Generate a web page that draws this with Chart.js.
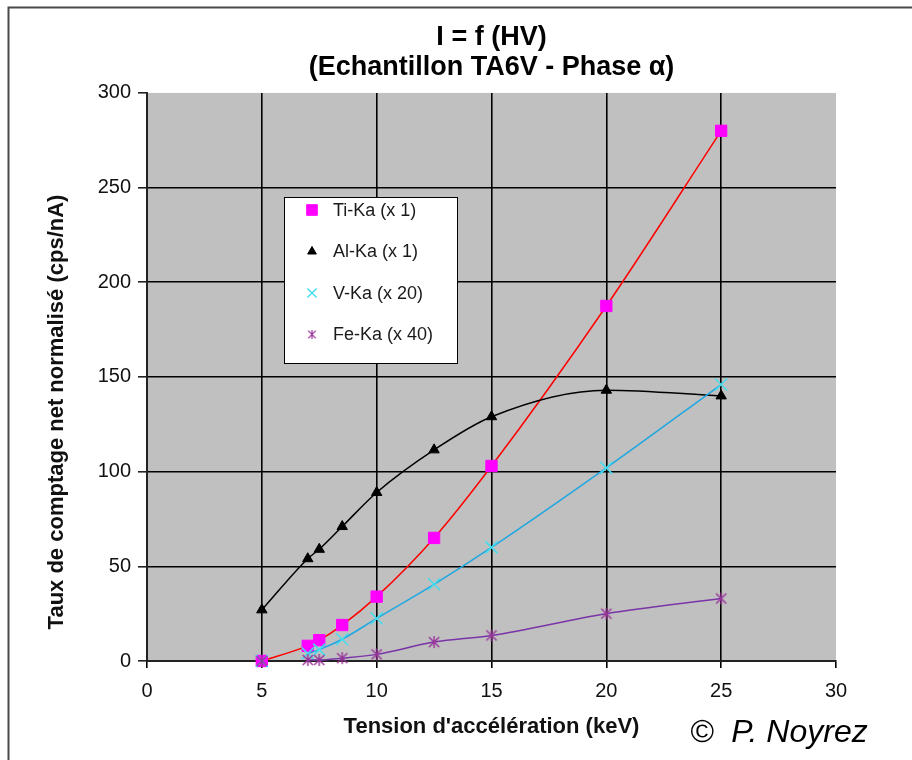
<!DOCTYPE html>
<html>
<head>
<meta charset="utf-8">
<script src="https://cdn.jsdelivr.net/npm/chart.js@4"></script>
<style>
  html, body { margin: 0; padding: 0; background: #fff; }
  canvas { display: block; }
</style>
</head>
<body>
<canvas id="c" width="912" height="760"></canvas>
<script>
// Accelerating voltage (keV)
const hv = [5, 7, 7.5, 8.5, 10, 12.5, 15, 20, 25];
// Net normalised count rates (cps/nA), already multiplied by the factor shown in each label
const tiKa = [0, 8, 11, 19, 34, 65, 103, 187.5, 280];
const alKa = [27, 54, 59, 71, 89, 111.5, 129, 143, 140];
const vKa  = [0, 4, 6, 11.5, 22.5, 40.5, 60, 102, 146];
const feKa = [0, 0.5, 0.5, 1.5, 3.5, 10, 13.5, 25, 33];

const seriesLabels = ['Ti-Ka (x 1)', 'Al-Ka (x 1)', 'V-Ka (x 20)', 'Fe-Ka (x 40)'];
const titleLines = ['I = f (HV)', '(Echantillon TA6V - Phase \u03b1)'];
const xTitle = "Tension d'accélération (keV)";
const yTitle = 'Taux de comptage net normalisé (cps/nA)';
const credit = '\u00a9  P. Noyrez';
const xTicks = [0, 5, 10, 15, 20, 25, 30];
const yTicks = [0, 50, 100, 150, 200, 250, 300];

const FONT = "'Liberation Sans', Arial, sans-serif";

const pts = ys => hv.map((x, i) => ({ x: x, y: ys[i] }));

// asterisk marker: an X crossed by a vertical stroke
function asterisk(size, color, lw) {
  const c = document.createElement('canvas');
  c.width = c.height = size;
  const g = c.getContext('2d');
  g.strokeStyle = color;
  g.lineWidth = lw;
  const m = size / 2, a = size / 2 - 1;
  const d = a * 0.85;
  g.beginPath();
  g.moveTo(m - d, m - d); g.lineTo(m + d, m + d);
  g.moveTo(m + d, m - d); g.lineTo(m - d, m + d);
  g.moveTo(m, m - a); g.lineTo(m, m + a);
  g.stroke();
  return c;
}
const feMark = asterisk(14, '#993399', 1.4);
const feMarkSmall = asterisk(11, '#993399', 1.2);

// hide the short stretch below the first measured point of a trend
const fromSeven = { borderColor: ctx => (ctx.p0.parsed.x < 6 ? 'rgba(0,0,0,0)' : undefined) };

const common = { borderWidth: 1.5, cubicInterpolationMode: 'monotone', clip: 14 };

const datasets = [
  Object.assign({ label: seriesLabels[0], data: pts(tiKa), borderColor: '#FF0000',
    pointStyle: 'rect', pointRadius: 8, pointBackgroundColor: '#FF00FF', pointBorderColor: '#FF00FF',
    pointBorderWidth: 1, order: 3,
    legendMark: { pointStyle: 'rect', radius: 7.5, fill: '#FF00FF', stroke: '#FF00FF', borderWidth: 1 } }, common),
  Object.assign({ label: seriesLabels[1], data: pts(alKa), borderColor: '#000000',
    pointStyle: 'triangle', pointRadius: 6, pointBackgroundColor: '#000000', pointBorderColor: '#000000',
    pointBorderWidth: 1, order: 2,
    legendMark: { pointStyle: 'triangle', radius: 5, fill: '#000000', stroke: '#000000', borderWidth: 1 } }, common),
  Object.assign({ label: seriesLabels[2], data: pts(vKa), borderColor: '#1EA7E1',
    pointStyle: 'crossRot', pointRadius: 8.5, pointBackgroundColor: '#44DDEE', pointBorderColor: '#44DDEE',
    pointBorderWidth: 1.5, order: 1, segment: fromSeven,
    legendMark: { pointStyle: 'crossRot', radius: 6.5, fill: '#44DDEE', stroke: '#44DDEE', borderWidth: 1.4 } }, common),
  Object.assign({ label: seriesLabels[3], data: pts(feKa), borderColor: '#7A34A8',
    pointStyle: feMark, pointRadius: 7, pointBackgroundColor: '#993399', pointBorderColor: '#993399',
    pointBorderWidth: 1, order: 0, segment: fromSeven,
    legendMark: { pointStyle: feMarkSmall, radius: 5, fill: '#993399', stroke: '#993399', borderWidth: 1 } }, common)
];

const decor = {
  id: 'decor',
  beforeDraw(chart) {
    const { ctx, chartArea: a } = chart;
    ctx.save();
    ctx.fillStyle = '#ffffff';
    ctx.fillRect(0, 0, chart.width, chart.height);
    // outer frame (top and left edges)
    ctx.strokeStyle = '#4a4a4a';
    ctx.lineWidth = 2;
    ctx.beginPath();
    ctx.moveTo(8.5, chart.height);
    ctx.lineTo(8.5, 7.5);
    ctx.lineTo(chart.width, 7.5);
    ctx.stroke();
    // plot background
    ctx.fillStyle = '#C0C0C0';
    ctx.fillRect(a.left, a.top, a.right - a.left, a.bottom - a.top);
    ctx.restore();
  },
  afterDraw(chart) {
    const { ctx } = chart;
    ctx.save();
    // vertical axis title
    ctx.translate(57, 412);
    ctx.rotate(-Math.PI / 2);
    ctx.fillStyle = '#111';
    ctx.font = 'bold 22px ' + FONT;
    ctx.textAlign = 'center';
    ctx.textBaseline = 'middle';
    ctx.fillText(yTitle, 0, 0);
    ctx.restore();

    // legend box
    ctx.save();
    const bx = 284.5, by = 197.5, bw = 173, bh = 166;
    ctx.fillStyle = '#ffffff';
    ctx.fillRect(bx, by, bw, bh);
    ctx.strokeStyle = '#000';
    ctx.lineWidth = 1;
    ctx.strokeRect(bx, by, bw, bh);
    const rows = [210, 251.5, 293, 334.5];
    chart.data.datasets.forEach((ds, i) => {
      const m = ds.legendMark;
      ctx.fillStyle = m.fill;
      ctx.strokeStyle = m.stroke;
      ctx.lineWidth = m.borderWidth;
      Chart.helpers.drawPoint(ctx, { pointStyle: m.pointStyle, radius: m.radius, rotation: 0, borderWidth: m.borderWidth }, 312, rows[i]);
      ctx.fillStyle = '#1a1a1a';
      ctx.font = '18px ' + FONT;
      ctx.textAlign = 'left';
      ctx.textBaseline = 'middle';
      ctx.fillText(ds.label, 333, rows[i] + 1);
    });
    // credit line
    ctx.fillStyle = '#000';
    ctx.font = 'italic 32px ' + FONT;
    ctx.textAlign = 'left';
    ctx.textBaseline = 'alphabetic';
    ctx.fillText(credit, 690, 742);
    ctx.restore();
  }
};

new Chart(document.getElementById('c'), {
  type: 'line',
  data: { datasets: datasets },
  plugins: [decor],
  options: {
    responsive: false,
    animation: false,
    devicePixelRatio: 1,
    layout: { padding: { left: 0, right: 76, top: 0, bottom: 0 } },
    plugins: {
      legend: { display: false },
      tooltip: { enabled: false },
      title: {
        display: true,
        fullSize: false,
        text: titleLines,
        color: '#000',
        font: { family: FONT, size: 27, weight: 'bold', lineHeight: 1.11 },
        padding: { top: 23, bottom: 10 }
      }
    },
    scales: {
      x: {
        type: 'linear',
        min: 0, max: 30,
        afterFit: s => { s.height = 99; },
        afterBuildTicks: s => { s.ticks = xTicks.map(v => ({ value: v })); },
        ticks: { color: '#111', font: { family: FONT, size: 20 }, padding: 11, maxRotation: 0, autoSkip: false },
        grid: {
          color: c => (c.tick && (c.tick.value === 0 || c.tick.value === 30) ? 'rgba(0,0,0,0)' : '#000'),
          lineWidth: 1.6,
          tickColor: '#000',
          tickLength: 7
        },
        border: { display: true, color: '#222', width: 2 },
        title: {
          display: true, text: xTitle, color: '#111',
          font: { family: FONT, size: 22, weight: 'bold', lineHeight: 1.2 },
          padding: { top: 0, bottom: 20 }
        }
      },
      y: {
        type: 'linear',
        min: 0, max: 300,
        afterFit: s => { s.width = 147; },
        afterBuildTicks: s => { s.ticks = yTicks.map(v => ({ value: v })); },
        ticks: { color: '#111', font: { family: FONT, size: 20 }, padding: 7 },
        grid: {
          color: c => (c.tick && (c.tick.value === 0 || c.tick.value === 300) ? 'rgba(0,0,0,0)' : '#000'),
          lineWidth: 1.6,
          tickColor: '#222',
          tickLength: 9
        },
        border: { display: true, color: '#222', width: 2 }
      }
    }
  }
});
</script>
</body>
</html>
